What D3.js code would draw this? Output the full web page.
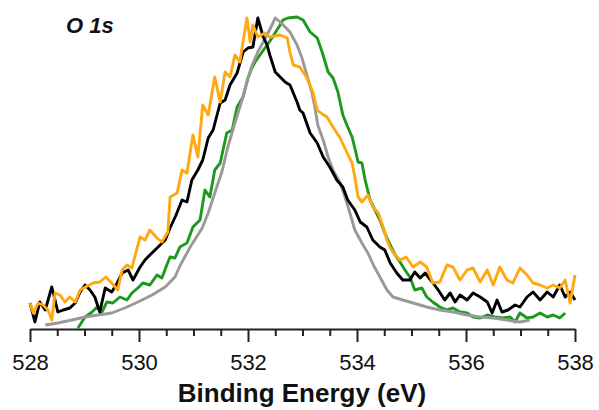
<!DOCTYPE html>
<html>
<head>
<meta charset="utf-8">
<script src="https://cdn.jsdelivr.net/npm/d3@7"></script>
<style>
  body { margin: 0; background: #fff; }
  svg { display: block; font-family: Arial, "Liberation Sans", sans-serif; }
</style>
</head>
<body>
<div id="chart"></div>
<script>
// O 1s spectra: [binding energy (eV), intensity (a.u.)]
const blackSeries = [
  [528.00,26],[528.09,7],[528.18,27],[528.28,19],[528.40,42],[528.46,29],[528.51,17],[528.61,19],
  [528.73,21],[528.83,26],[528.92,37],[529.01,44],[529.10,39],[529.19,32],[529.28,17],[529.38,41],
  [529.50,37],[529.60,46],[529.69,56],[529.80,59],[529.89,49],[530.02,62],[530.11,69],[530.20,74],
  [530.35,82],[530.48,89],[530.57,101],[530.68,114],[530.79,129],[530.88,127],[530.97,149],[531.08,159],
  [531.17,169],[531.27,191],[531.36,199],[531.49,226],[531.58,229],[531.67,244],[531.80,256],[531.91,277],
  [532.00,281],[532.09,282],[532.18,311],[532.28,292],[532.35,284],[532.40,274],[532.50,257],[532.59,252],
  [532.68,247],[532.77,244],[532.90,227],[532.95,219],[533.01,216],[533.14,196],[533.27,186],[533.38,172],
  [533.50,162],[533.63,149],[533.74,142],[533.83,129],[533.96,119],[534.06,107],[534.18,102],[534.29,89],
  [534.42,82],[534.51,79],[534.61,66],[534.73,56],[534.84,49],[534.97,49],[535.06,57],[535.16,51],
  [535.25,56],[535.38,47],[535.49,39],[535.61,29],[535.71,36],[535.80,27],[535.89,34],[536.02,29],
  [536.13,36],[536.26,32],[536.39,27],[536.48,16],[536.57,29],[536.66,17],[536.77,19],[536.90,24],
  [536.99,22],[537.12,32],[537.23,37],[537.36,29],[537.49,37],[537.60,32],[537.72,44],[537.82,32],
  [537.91,37],[538.00,29]
];
const orangeSeries = [
  [528.00,26],[528.06,16],[528.15,26],[528.24,24],[528.33,19],[528.40,9],[528.46,36],[528.55,34],
  [528.64,27],[528.73,32],[528.83,27],[528.92,39],[529.05,43],[529.16,46],[529.28,47],[529.39,52],
  [529.50,46],[529.61,39],[529.69,59],[529.78,64],[529.87,61],[529.94,76],[530.02,92],[530.11,89],
  [530.20,99],[530.33,91],[530.42,87],[530.53,97],[530.57,132],[530.70,136],[530.79,159],[530.88,156],
  [530.99,194],[531.08,172],[531.17,224],[531.27,214],[531.39,252],[531.49,227],[531.58,257],[531.67,252],
  [531.76,274],[531.85,267],[531.98,311],[532.04,287],[532.09,304],[532.18,292],[532.31,296],[532.40,292],
  [532.50,293],[532.59,294],[532.72,291],[532.77,277],[532.83,264],[532.95,262],[533.08,251],[533.19,237],
  [533.27,219],[533.36,215],[533.45,212],[533.56,202],[533.69,191],[533.82,176],[533.91,166],[533.96,152],
  [534.02,132],[534.09,127],[534.20,134],[534.29,122],[534.39,116],[534.48,102],[534.55,89],[534.61,81],
  [534.70,74],[534.79,69],[534.90,72],[535.03,62],[535.16,67],[535.28,62],[535.39,46],[535.52,47],
  [535.65,64],[535.76,62],[535.89,49],[536.02,59],[536.13,61],[536.26,47],[536.39,59],[536.50,44],
  [536.62,62],[536.75,49],[536.86,46],[536.99,61],[537.12,54],[537.23,46],[537.36,44],[537.49,41],
  [537.60,44],[537.72,41],[537.82,49],[537.91,26],[538.00,54]
];
const greenSeries = [
  [528.88,1],[529.01,12],[529.14,17],[529.23,22],[529.32,17],[529.41,27],[529.52,26],[529.65,32],
  [529.78,29],[529.87,36],[529.98,41],[530.07,46],[530.20,44],[530.33,54],[530.42,51],[530.51,64],
  [530.57,72],[530.66,71],[530.75,82],[530.88,86],[530.99,102],[531.12,109],[531.21,139],[531.30,132],
  [531.39,159],[531.49,166],[531.61,196],[531.71,199],[531.80,222],[531.91,232],[532.00,251],[532.07,261],
  [532.13,267],[532.22,274],[532.35,284],[532.44,291],[532.53,299],[532.59,304],[532.64,309],[532.73,311],
  [532.90,312],[533.01,309],[533.14,297],[533.27,291],[533.36,277],[533.47,257],[533.56,251],[533.65,237],
  [533.74,214],[533.83,202],[533.91,192],[533.96,181],[534.02,167],[534.09,166],[534.15,149],[534.24,129],
  [534.33,119],[534.42,109],[534.51,96],[534.61,84],[534.70,74],[534.79,67],[534.88,59],[534.97,52],
  [535.06,39],[535.19,41],[535.28,32],[535.39,27],[535.52,22],[535.65,19],[535.76,21],[535.89,17],
  [536.02,16],[536.13,12],[536.26,11],[536.39,14],[536.53,12],[536.68,11],[536.81,12],[536.90,7],
  [536.99,16],[537.12,11],[537.23,12],[537.36,16],[537.49,12],[537.60,14],[537.72,11],[537.82,16]
];
const graySeries = [
  [528.28,4],[528.51,6],[528.77,9],[529.01,12],[529.25,14],[529.50,16],[529.74,21],[529.98,27],
  [530.24,34],[530.48,42],[530.66,52],[530.75,63],[530.94,82],[531.16,101],[531.27,116],[531.39,136],
  [531.52,157],[531.63,182],[531.76,206],[531.89,229],[531.98,247],[532.07,263],[532.18,277],[532.35,294],
  [532.44,304],[532.50,311],[532.59,307],[532.68,302],[532.77,297],[532.90,284],[532.99,271],[533.08,254],
  [533.17,237],[533.23,221],[533.28,204],[533.38,189],[533.47,172],[533.56,159],[533.69,146],[533.78,132],
  [533.87,116],[533.96,99],[534.09,86],[534.20,76],[534.31,63],[534.42,52],[534.55,39],[534.66,32],
  [534.84,29],[535.03,26],[535.28,22],[535.52,19],[535.76,17],[536.02,14],[536.26,12],[536.50,11],
  [536.75,9],[536.99,7],[537.17,9]
];

const majorTicks = [528, 530, 532, 534, 536, 538];
const minorTicks = [528.5, 529, 529.5, 530.5, 531, 531.5, 532.5, 533, 533.5, 534.5, 535, 535.5, 536.5, 537, 537.5];

const width = 599, height = 410;

const svg = d3.select('#chart').append('svg')
  .attr('width', width)
  .attr('height', height);

const x = d3.scaleLinear().domain([528, 538]).range([30, 575]);
const y = d3.scaleLinear().domain([0, 312]).range([329, 17]);

const line = d3.line()
  .x(d => x(d[0]))
  .y(d => y(d[1]));

// draw order: green, gray, black, orange on top
const series = [
  { data: greenSeries, color: '#1c991c' },
  { data: graySeries, color: '#999999' },
  { data: blackSeries, color: '#000000' },
  { data: orangeSeries, color: '#ffa812' }
];

series.forEach(s => {
  svg.append('path')
    .datum(s.data)
    .attr('fill', 'none')
    .attr('stroke', s.color)
    .attr('stroke-width', 2.9)
    .attr('stroke-linejoin', 'round')
    .attr('d', line);
});

// x axis
const axis = svg.append('g').attr('transform', `translate(0, ${y(0)})`);

axis.append('g')
  .call(d3.axisBottom(x).tickValues(minorTicks).tickSize(7).tickFormat(''))
  .call(g => g.select('.domain').remove())
  .call(g => g.selectAll('line').attr('stroke', '#222').attr('stroke-width', 2));

axis.append('g')
  .call(d3.axisBottom(x).tickValues(majorTicks).tickSize(13).tickSizeOuter(0).tickPadding(12).tickFormat(d3.format('d')))
  .call(g => g.select('.domain').attr('stroke', '#222').attr('stroke-width', 2))
  .call(g => g.selectAll('line').attr('stroke', '#222').attr('stroke-width', 2))
  .call(g => g.selectAll('text')
    .attr('fill', '#111')
    .style('font-size', '22px')
    .style('font-family', 'Arial, "Liberation Sans", sans-serif'));

// axis title
svg.append('text')
  .attr('x', 302)
  .attr('y', 402)
  .attr('text-anchor', 'middle')
  .style('font-size', '26px')
  .style('font-weight', 'bold')
  .attr('fill', '#111')
  .text('Binding Energy (eV)');

// panel label
svg.append('text')
  .attr('x', 66)
  .attr('y', 33)
  .style('font-size', '22px')
  .style('font-weight', 'bold')
  .style('font-style', 'italic')
  .attr('fill', '#111')
  .text('O 1s');
</script>
</body>
</html>
